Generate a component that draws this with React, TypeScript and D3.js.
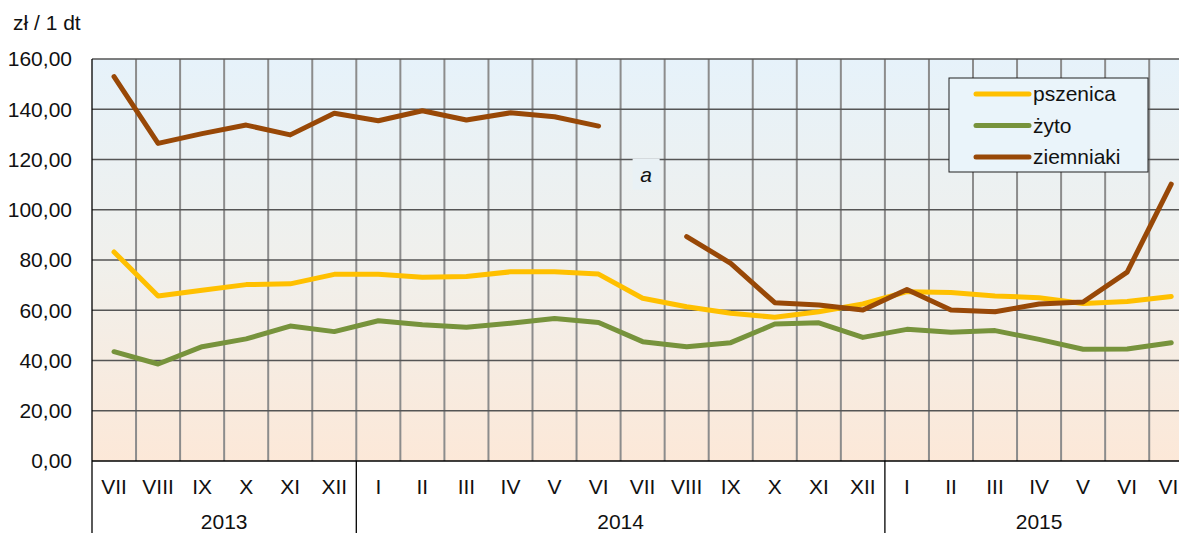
import React from 'react';
import * as d3 from 'd3';

const months = [
  'VII', 'VIII', 'IX', 'X', 'XI', 'XII',
  'I', 'II', 'III', 'IV', 'V', 'VI', 'VII', 'VIII', 'IX', 'X', 'XI', 'XII',
  'I', 'II', 'III', 'IV', 'V', 'VI', 'VII',
];
const years = [
  { label: '2013', count: 6 },
  { label: '2014', count: 12 },
  { label: '2015', count: 7 },
];
const yTicks = [0, 20, 40, 60, 80, 100, 120, 140, 160];

const pszenica = [
  83.2, 65.7, 68.0, 70.2, 70.5, 74.3,
  74.3, 73.1, 73.4, 75.3, 75.3, 74.4, 64.8, 61.4, 58.8, 57.2, 59.4, 62.5,
  67.4, 67.1, 65.7, 65.0, 62.7, 63.5, 65.5,
];
const zyto = [
  43.5, 38.6, 45.5, 48.6, 53.7, 51.5,
  55.8, 54.2, 53.2, 54.8, 56.7, 55.1, 47.5, 45.5, 47.1, 54.5, 55.0, 49.2,
  52.4, 51.2, 51.9, 48.4, 44.5, 44.6, 47.1,
];
const ziemniaki: (number | null)[] = [
  153.0, 126.4, 130.3, 133.7, 129.8, 138.4,
  135.4, 139.4, 135.7, 138.6, 137.0, 133.3, null, 89.3, 78.7, 63.0, 62.1, 60.1,
  68.3, 60.1, 59.4, 62.5, 63.3, 75.2, 110.2,
];

const series = [
  { name: 'pszenica', color: '#FFC000', values: pszenica },
  { name: 'żyto', color: '#77933C', values: zyto },
  { name: 'ziemniaki', color: '#984807', values: ziemniaki },
];

// note "a" sits over the gap in ziemniaki
const noteIndex = 12;
const noteValue = 114;

const W = 1179;
const H = 533;
const left = 92;
const step = 44.05;
const top = 59;
const bottom = 461;
const fs = 21;
const font = '"Liberation Sans", Arial, sans-serif';

export default function App() {
  const idx = d3.range(months.length);
  const x = d3.scaleBand<number>().domain(idx).range([left, left + step * months.length]);
  const y = d3.scaleLinear().domain([0, 160]).range([bottom, top]);
  const cx = (i: number) => (x(i) ?? 0) + x.bandwidth() / 2;

  const line = d3.line<number | null>()
    .defined(d => d != null)
    .x((_, i) => cx(i))
    .y(d => y(d as number));

  let acc = 0;
  const yearBlocks = years.map(yr => {
    const start = acc;
    acc += yr.count;
    return { ...yr, start, end: acc };
  });

  const right = left + step * months.length;

  return (
    <svg width={W} height={H} style={{ position: 'absolute', left: 0, top: 0, background: '#fff' }}
      fontFamily={font}>
      <defs>
        <linearGradient id="bg" x1="0" y1="0" x2="0" y2="1">
          <stop offset="0%" stopColor="#e6f2fa" />
          <stop offset="50%" stopColor="#f0f0ec" />
          <stop offset="100%" stopColor="#fce8d8" />
        </linearGradient>
      </defs>

      <rect x={left} y={top} width={right - left} height={bottom - top} fill="url(#bg)" />

      {/* vertical grid */}
      {idx.slice(1).map(i => (
        <line key={'v' + i} x1={x(i)} x2={x(i)} y1={top} y2={bottom} stroke="#8c8c8c" strokeWidth={2} />
      ))}
      {/* horizontal grid */}
      {yTicks.map(t => (
        <line key={'h' + t} x1={left} x2={right} y1={y(t)} y2={y(t)}
          stroke={t === 0 ? '#000' : '#555'} strokeWidth={t === 0 ? 1.5 : 1.3} />
      ))}
      <line x1={left} x2={left} y1={top} y2={H} stroke="#000" strokeWidth={1.3} />

      {/* y labels */}
      {yTicks.map(t => (
        <text key={'yl' + t} x={72} y={y(t)} dy="0.35em" textAnchor="end" fontSize={fs} fill="#111">
          {t.toFixed(2).replace('.', ',')}
        </text>
      ))}
      <text x={13} y={30} fontSize={fs} fill="#111">zł / 1 dt</text>

      {/* month labels */}
      {months.map((m, i) => (
        <text key={'m' + i} x={cx(i)} y={494} textAnchor="middle" fontSize={fs} fill="#111">{m}</text>
      ))}
      {/* year blocks */}
      {yearBlocks.map(b => (
        <g key={b.label}>
          {b.start > 0 && (
            <line x1={x(b.start)} x2={x(b.start)} y1={bottom} y2={H} stroke="#000" strokeWidth={1.3} />
          )}
          <text x={((x(b.start) ?? 0) + (x(b.end - 1) ?? 0) + x.bandwidth()) / 2} y={529}
            textAnchor="middle" fontSize={fs} fill="#111">{b.label}</text>
        </g>
      ))}

      {/* note */}
      <rect x={cx(noteIndex) - 10} y={y(noteValue) - 16} width={27} height={31} fill="#e9f1f5" />
      <text x={cx(noteIndex) + 3.5} y={y(noteValue)} dy="0.35em" textAnchor="middle" fontSize={fs}
        fontStyle="italic" fill="#111">a</text>

      {/* series */}
      {series.map(s => (
        <path key={s.name} d={line(s.values) ?? ''} fill="none" stroke={s.color} strokeWidth={5}
          strokeLinejoin="round" strokeLinecap="round" />
      ))}

      {/* legend */}
      <rect x={949} y={78} width={199} height={94} fill="#eaf4fa" stroke="#222" strokeWidth={1} />
      {series.map((s, i) => (
        <g key={'lg' + s.name} transform={`translate(0, ${94 + i * 31.5})`}>
          <line x1={976} x2={1029} y1={0} y2={0} stroke={s.color} strokeWidth={5} strokeLinecap="round" />
          <text x={1033} y={0} dy="0.35em" fontSize={fs} fill="#111">{s.name}</text>
        </g>
      ))}
    </svg>
  );
}
